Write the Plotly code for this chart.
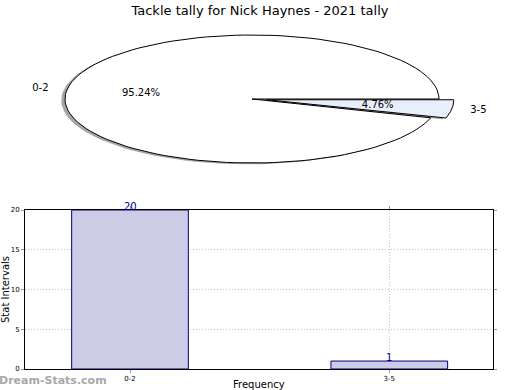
import numpy as np
import plotly.graph_objects as go

# ---- data ----
categories = ["0-2", "3-5"]
tally = [20, 1]
explode = [0.0, 0.08]
slice_colors = ["#ffffff", "#e8effb"]
title = "Tackle tally for Nick Haynes - 2021 tally"
y_ticks = [0, 5, 10, 15, 20]

W, H = 520, 390
# pie geometry (pixels): centre and semi-axes
CX, CY, RX, RY = 252, 99, 187, 64
PIE_H = 195  # height of pie area in px

fig = go.Figure()

total = float(sum(tally))
fracs = [v / total for v in tally]

def wedge(a0, a1, dx, dy, r=1.0, n=120):
    t = np.radians(np.linspace(a0, a1, n))
    xs = np.concatenate([[dx], dx + r * np.cos(t), [dx]])
    ys = np.concatenate([[dy], dy + r * np.sin(t), [dy]])
    return xs, ys

# shadows then wedges (matplotlib-style, CCW from 0 deg)
angles = []
a = 0.0
for f in fracs:
    angles.append((a, a + 360 * f))
    a += 360 * f

for (a0, a1), ex in zip(angles, explode):
    mid = np.radians((a0 + a1) / 2)
    dx, dy = ex * np.cos(mid), ex * np.sin(mid)
    xs, ys = wedge(a0, a1, dx - 0.02, dy - 0.02)
    fig.add_trace(go.Scatter(x=xs, y=ys, xaxis="x2", yaxis="y2", mode="lines",
                             fill="toself", fillcolor="rgba(77,77,77,0.5)",
                             line=dict(width=0), hoverinfo="skip", showlegend=False))

for (a0, a1), ex, col in zip(angles, explode, slice_colors):
    mid = np.radians((a0 + a1) / 2)
    dx, dy = ex * np.cos(mid), ex * np.sin(mid)
    xs, ys = wedge(a0, a1, dx, dy)
    fig.add_trace(go.Scatter(x=xs, y=ys, xaxis="x2", yaxis="y2", mode="lines",
                             fill="toself", fillcolor=col,
                             line=dict(color="black", width=1), hoverinfo="skip",
                             showlegend=False))

# labels
for (a0, a1), ex, cat, f in zip(angles, explode, categories, fracs):
    mid = np.radians((a0 + a1) / 2)
    lx, ly = (1.1 + ex) * np.cos(mid), (1.1 + ex) * np.sin(mid)
    px_, py_ = (0.6 + ex) * np.cos(mid), (0.6 + ex) * np.sin(mid)
    fig.add_trace(go.Scatter(x=[lx], y=[ly], xaxis="x2", yaxis="y2", mode="text",
                             text=[cat], textposition="middle left" if lx < 0 else "middle right",
                             textfont=dict(size=10, color="black"),
                             hoverinfo="skip", showlegend=False))
    fig.add_trace(go.Scatter(x=[px_], y=[py_], xaxis="x2", yaxis="y2", mode="text",
                             text=[f"{f*100:.2f}%"], textposition="middle center",
                             textfont=dict(size=10, color="black"),
                             hoverinfo="skip", showlegend=False))

# bar chart
fig.add_trace(go.Bar(x=categories, y=tally, width=0.45,
                     marker=dict(color="#cccce6", line=dict(color="#000080", width=1)),
                     showlegend=False, hoverinfo="skip"))

grid = dict(showgrid=True, gridcolor="#c4c4c4", griddash="1px,2px", gridwidth=1)

fig.update_layout(
    width=W, height=H,
    margin=dict(l=0, r=0, t=0, b=0),
    paper_bgcolor="white", plot_bgcolor="white",
    font=dict(family="DejaVu Sans", color="black"),
    title=dict(text=title, x=0.5, xanchor="center", y=1 - 10 / H, yanchor="middle",
               font=dict(size=13, color="black")),
    xaxis=dict(domain=[25 / W, 493 / W], range=[-0.405, 1.40], type="category",
               showline=True, mirror="ticks", linecolor="black", linewidth=1,
               ticks="outside", ticklen=3, tickcolor="#999999",
               tickfont=dict(size=7, color="black"),
               automargin=False, fixedrange=True, **grid),
    yaxis=dict(domain=[1 - 369 / H, 1 - 210 / H], range=[0, 20], tickvals=y_ticks,
               showline=True, mirror="ticks", linecolor="black", linewidth=1,
               ticks="outside", ticklen=3, tickcolor="#999999",
               tickfont=dict(size=7, color="black"),
               zeroline=False,
               title=dict(text="Stat Intervals", font=dict(size=10), standoff=5),
               automargin=False, fixedrange=True, **grid),
    xaxis2=dict(domain=[0, 1], anchor="y2", visible=False, fixedrange=True,
                range=[-CX / RX, (W - CX) / RX]),
    yaxis2=dict(domain=[1 - PIE_H / H, 1], anchor="x2", visible=False, fixedrange=True,
                range=[-(PIE_H - CY) / RY, CY / RY]),
)

# value labels above bars
for c, v in zip(categories, tally):
    fig.add_annotation(x=c, y=v, xref="x", yref="y", text=str(v), showarrow=False,
                       yanchor="bottom", yshift=-4,
                       font=dict(size=10, color="#000080"))

# x-axis title at the very bottom of the page
fig.add_annotation(text="Frequency", xref="paper", yref="paper",
                   x=259 / W, y=0, xanchor="center", yanchor="bottom",
                   showarrow=False, borderpad=0, yshift=-1,
                   font=dict(size=10, color="black"))

fig.add_annotation(text="<b>Dream-Stats.com</b>", xref="paper", yref="paper",
                   x=0, y=1 - 380 / H, xanchor="left", yanchor="middle",
                   showarrow=False, xshift=-3,
                   font=dict(size=11, color="#a8a8a8", family="DejaVu Sans"))

fig.write_html("out.html")
